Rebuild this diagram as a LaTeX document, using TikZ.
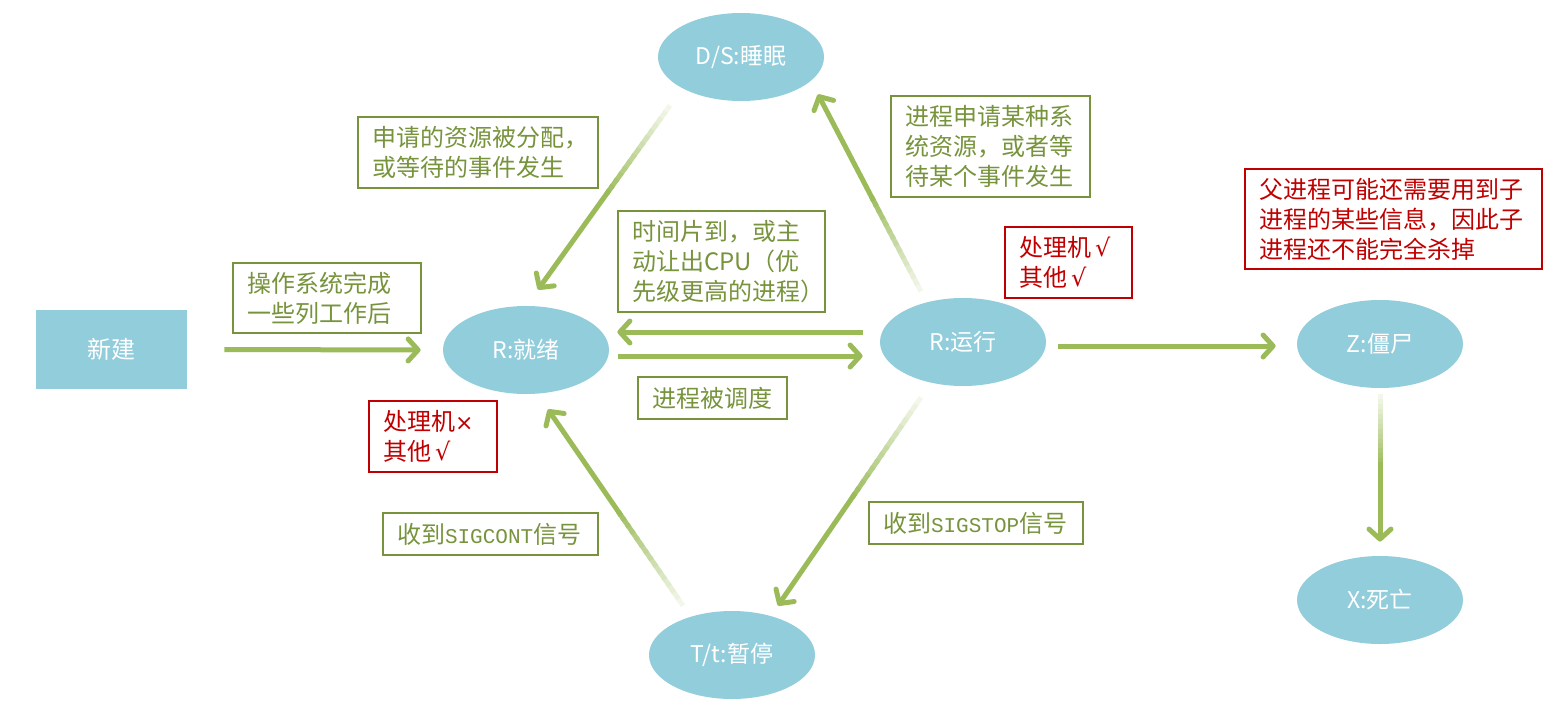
\documentclass[tikz,border=0pt]{standalone}
\usepackage{fontspec}
\setmainfont{Noto Sans CJK SC}
\newfontfamily\signalfont{Liberation Mono}
\newfontfamily\markfont{DejaVu Sans}
\usetikzlibrary{shapes.geometric,arrows.meta,calc}
\definecolor{statefill}{HTML}{92CDDC}
\definecolor{linkgreen}{HTML}{9BBB59}
\definecolor{notegreen}{HTML}{77933C}
\definecolor{notered}{HTML}{C00000}
\newcommand\yes{{\markfont\fontsize{12}{15}\selectfont √}}
\newcommand\no{{\markfont\fontsize{11}{15}\selectfont ×}}

\newcommand\fadelink[2]{%
  \foreach \k in {0,...,13}{%
    \pgfmathtruncatemacro\mix{12+\k*88/14}%
    \pgfmathsetmacro\ta{\k/30}%
    \pgfmathsetmacro\tb{(\k+1.4)/30}%
    \draw[link,draw=linkgreen!\mix!white] ($(#1)!\ta!(#2)$) -- ($(#1)!\tb!(#2)$);
  }
  \draw[link,->] ($(#1)!0.46!(#2)$) -- (#2);
}

\begin{document}
\begin{tikzpicture}[x=0.5pt,y=-0.5pt,>={Straight Barb[length=5pt,width=11pt,round]},
    state node/.style={ellipse,fill=statefill,minimum width=83pt,minimum height=44pt,inner sep=0pt,text=white,font=\fontsize{11.5}{13}\selectfont},
    note node/.style={draw=notegreen,line width=1.2pt,text=notegreen,align=left,inner xsep=7pt,inner ysep=0pt,font=\fontsize{12}{15}\selectfont},
    warn node/.style={note node,draw=notered,text=notered},
    link/.style={line width=2.5pt,draw=linkgreen,line cap=butt}]

    \useasboundingbox (0,0) rectangle (1560,723);

    \node[rectangle,fill=statefill,minimum width=75.5pt,minimum height=39.5pt,text=white,font=\fontsize{12}{14}\selectfont] (new) at (111.5,349.5) {新建};
    \node[state node] (ready) at (526,350) {R:就绪};
    \node[state node] (run) at (963,342) {R:运行};
    \node[state node] (sleep) at (741,57) {D/S:睡眠};
    \node[state node] (stop) at (732,655) {T/t:暂停};
    \node[state node] (zombie) at (1380,344) {Z:僵尸};
    \node[state node] (dead) at (1380,600) {X:死亡};

    \node[note node,text width=80pt,minimum height=35pt] (c1) at (327,298) {操作系统完成\\一些列工作后};
    \node[note node,text width=106pt,minimum height=35.5pt] (c2) at (478,152.5) {申请的资源被分配，\\或等待的事件发生};
    \node[note node,text width=89.5pt,minimum height=50.5pt] (c3) at (721.5,261.5) {时间片到，或主\\动让出CPU（优\\先级更高的进程）};
    \node[note node,text width=85.5pt,minimum height=50.5pt] (c4) at (990.5,146.5) {进程申请某种系\\统资源，或者等\\待某个事件发生};
    \node[warn node,text width=49.5pt,minimum height=35.5pt] (c5) at (1068.5,262.5) {处理机\,\yes\\其他\,\yes};
    \node[warn node,text width=134.5pt,minimum height=50pt] (c6) at (1393.5,219) {父进程可能还需要用到子\\进程的某些信息，因此子\\进程还不能完全杀掉};
    \node[note node,text width=60.5pt,minimum height=21pt] (c7) at (712.5,398) {进程被调度};
    \node[warn node,text width=50pt,minimum height=35.5pt] (c8) at (433,436.5) {处理机\no\\其他\,\yes};
    \node[note node,text width=93.5pt,minimum height=21pt] (c9) at (490.5,534) {收到{\signalfont\fontsize{10.5}{15}\selectfont SIGCONT}信号};
    \node[note node,text width=93pt,minimum height=21pt] (c10) at (976,523) {收到{\signalfont\fontsize{10.5}{15}\selectfont SIGSTOP}信号};

    \draw[link,->] ($(new.east)+(37,0)$) -- ($(ready.west)+(-22,0)$);
    \draw[link,->] ($(ready.east)+(9,6)$) -- ($(run.west)+(-17,14)$);
    \draw[link,->] ($(run.west)+(-17,-10)$) -- ($(ready.east)+(8,-18)$);
    \draw[link,->] ($(run.east)+(12,4)$) -- ($(zombie.west)+(-21,2)$);

    \coordinate (s4) at ($(run.north)+(-42,-6)$);
    \coordinate (e4) at ($(sleep.south)+(77,-7)$);
    \coordinate (s5) at ($(sleep.south)+(-71,4)$);
    \coordinate (e5) at ($(ready.north)+(12,-16)$);
    \coordinate (s6) at ($(run.south)+(-42,11)$);
    \coordinate (e6) at ($(stop.north)+(46,-5)$);
    \coordinate (s7) at ($(stop.north)+(-49,-5)$);
    \coordinate (e7) at ($(ready.south)+(22,15)$);
    \coordinate (s9) at ($(zombie.south)+(0,6)$);
    \coordinate (e9) at ($(dead.north)+(0,-14)$);

    \fadelink{s4}{e4}
    \fadelink{s5}{e5}
    \fadelink{s6}{e6}
    \fadelink{s7}{e7}
    \fadelink{s9}{e9}
\end{tikzpicture}
\end{document}
